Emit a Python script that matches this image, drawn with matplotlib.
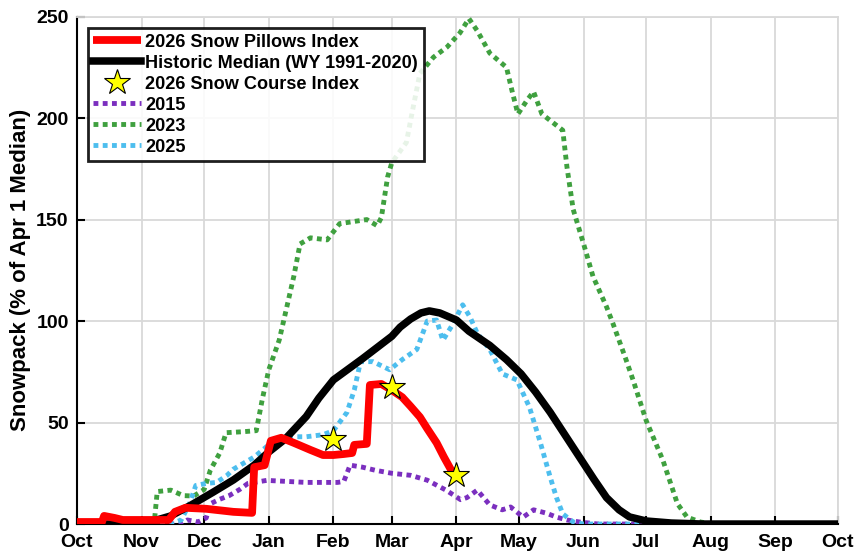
import matplotlib
matplotlib.use("Agg")
import matplotlib.pyplot as plt

plt.rcParams['font.family'] = ['Liberation Sans', 'DejaVu Sans']
plt.rcParams['font.weight'] = 'bold'

# days since Oct 1 for month ticks
month_days = [0, 31, 61, 92, 123, 151, 182, 212, 243, 273, 304, 335, 365]
month_labels = ['Oct', 'Nov', 'Dec', 'Jan', 'Feb', 'Mar', 'Apr', 'May', 'Jun',
                'Jul', 'Aug', 'Sep', 'Oct']

# historic median (WY 1991-2020)
median_days = [0, 28, 35, 45, 55, 65, 75, 85, 92, 100, 110, 116, 123, 131, 137,
               144, 151, 155, 160, 165, 169, 174, 182, 188, 193, 198, 206, 213,
               220, 227, 234, 241, 248, 254, 260, 265, 273, 285, 300, 365]
median_vals = [0, 0, 1, 4, 9.5, 15.5, 21.7, 29, 35.5, 42, 53, 62, 71, 77, 81.5,
               87, 92.5, 97, 101, 104, 105, 104, 100.5, 95, 91.5, 88, 81, 74,
               65, 55, 44, 33, 22, 13, 7, 3.5, 1.5, 0.5, 0, 0]

# 2026 snow pillows index
pillow_days = [0, 12, 13, 18, 22, 30, 44, 47, 52, 62, 75, 84, 85, 90, 93, 98,
               104, 112, 118, 123, 128, 132, 133, 139, 140.5, 146, 151, 156,
               160, 164.5, 168, 172.5, 176, 180, 182]
pillow_vals = [1, 1, 4, 3, 2, 2, 2, 6, 8, 7.5, 6, 5.5, 28, 29, 41, 42.5,
               40, 36.5, 34, 34, 34.5, 35, 39, 39.5, 68.5, 69, 66, 62.5,
               58, 52.7, 47, 40, 33, 25.6, 24]

# 2026 snow course index
course_days = [123, 151, 182]
course_vals = [42, 67.5, 24]

# 2015
y2015_days = [0, 50, 53, 58, 62, 64, 68, 73, 78, 82, 91, 110, 125, 128, 131,
              137, 143, 151, 160, 168, 177, 184, 187, 192, 198, 204, 208, 214,
              219, 225, 230, 235, 241, 250, 365]
y2015_vals = [0, 0, 2, 1, 3, 10, 12, 14, 17, 20, 21.5, 20.5, 20.5, 21, 29,
              28, 26.5, 25, 24, 21.6, 16.7, 12, 13, 16.7, 9.4, 7, 8.4, 3.4,
              7, 5.4, 3.4, 2, 1, 0, 0]

# 2023
y2023_days = [0, 37, 38.5, 45, 51, 56, 61, 64, 68.5, 71.5, 80, 86, 89, 92, 97,
              100, 104, 107, 112, 120, 126, 139, 144, 146, 149, 151, 158, 161,
              164.5, 171, 177.5, 183.7, 188, 192, 198, 206, 209, 211.5, 216,
              219, 223, 233, 235, 238, 243, 247.5, 254, 257, 263, 266.7, 273,
              281, 288, 292.6, 299, 305, 365]
y2023_vals = [0, 0, 16, 16.7, 14, 13.8, 17, 26.6, 35, 45, 45.5, 46, 62, 76,
              90.6, 104, 122, 138, 141, 140, 148, 150, 147, 151, 171, 178,
              188, 204, 222, 230, 235, 242, 249, 243, 232, 225, 212, 202, 209,
              213, 202, 194, 176, 155, 138, 122, 107, 99, 82, 71, 51, 31.5,
              10, 3.4, 1, 0, 0]

# 2025
y2025_days = [0, 45, 50, 54, 57, 62, 67, 72, 75, 80, 85, 92, 100, 110, 118,
              123, 129.5, 133, 136, 142, 150, 156, 163, 168, 172.5, 175.5,
              180, 185, 188.5, 192, 198, 204, 211, 217, 222, 227, 230, 233,
              238, 243, 365]
y2025_vals = [0, 0, 2, 10, 19, 20, 20.5, 24, 27, 30, 33, 39, 43, 43, 44, 46,
              55, 66, 80, 80, 76, 81, 86, 100, 100.5, 90.5, 98, 108, 102,
              94, 86, 74, 71, 57.6, 41, 23, 13, 5, 1, 0, 0]

dots = (0, (1.0, 0.9))

fig = plt.figure(figsize=(8.57, 5.57), dpi=100)
ax = fig.add_axes([0.0898, 0.0592, 0.888, 0.911])

ax.plot(pillow_days, pillow_vals, color='#ff0000', lw=5.6,
        solid_capstyle='butt', label='2026 Snow Pillows Index', zorder=5)
ax.plot(median_days, median_vals, color='black', lw=5.4,
        label='Historic Median (WY 1991-2020)', zorder=4)
ax.plot(course_days, course_vals, ls='none', marker='*', ms=19,
        mfc='#ffff00', mec='black', mew=0.8,
        label='2026 Snow Course Index', zorder=7)
ax.plot(y2015_days, y2015_vals, color='#7b2fbf', lw=3.5, ls=dots,
        label='2015', zorder=3)
ax.plot(y2023_days, y2023_vals, color='#3fa03f', lw=3.5, ls=dots,
        label='2023', zorder=3)
ax.plot(y2025_days, y2025_vals, color='#4dbeee', lw=3.5, ls=dots,
        label='2025', zorder=3)

ax.set_xlim(0, 365)
ax.set_ylim(0, 250)
ax.set_xticks(month_days)
ax.set_xticklabels(month_labels)
ax.set_yticks([0, 50, 100, 150, 200, 250])
ax.tick_params(direction='in', length=6, width=1.5, labelsize=14, pad=6)
ax.tick_params(axis='x', pad=7)
ax.grid(True, color='#d9d9d9', lw=1.3)
ax.set_axisbelow(True)
for s in ['top', 'right']:
    ax.spines[s].set_color('#d9d9d9')
    ax.spines[s].set_linewidth(1.3)
for s in ['left', 'bottom']:
    ax.spines[s].set_linewidth(1.5)
ax.set_ylabel('Snowpack (% of Apr 1 Median)', fontsize=16, fontweight='bold')
ax.yaxis.set_label_coords(-0.060, 0.5)

leg = ax.legend(loc='upper left', bbox_to_anchor=(0.0145, 0.977),
                borderaxespad=0, fontsize=13.1, fancybox=False,
                framealpha=0.88, edgecolor='black', handlelength=2.6,
                handletextpad=0.25, labelspacing=0.22, borderpad=0.3)
leg.get_frame().set_linewidth(2)

fig.savefig('out.png', dpi=100)
